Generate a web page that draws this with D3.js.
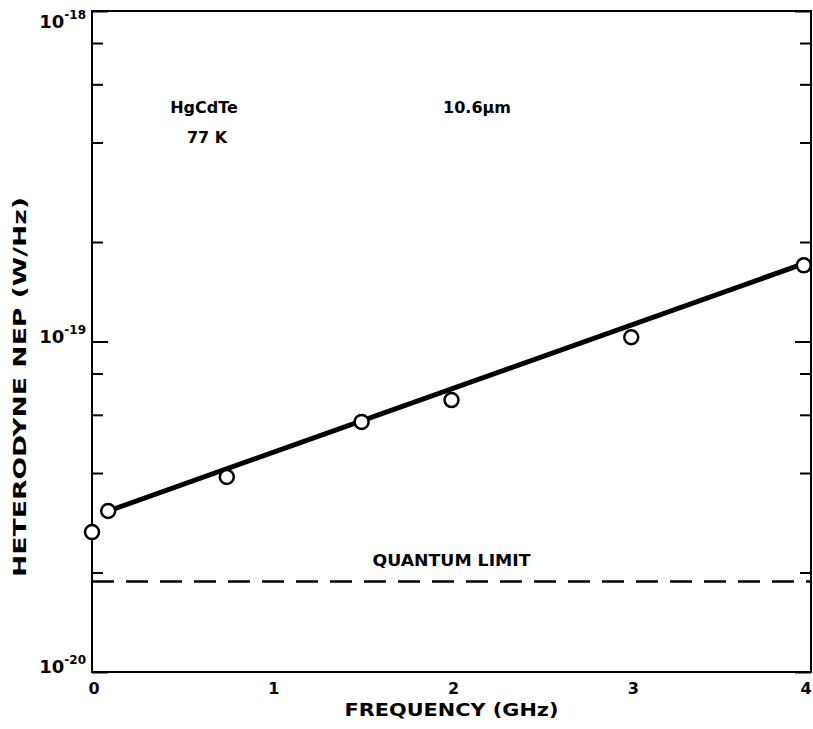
<!DOCTYPE html>
<meta charset="utf-8">
<style>
body { margin: 0; background: #fff; }
svg text { font-family: "DejaVu Sans", sans-serif; font-weight: bold; fill: #000; }
.axis path { display: none; }
.axis line { stroke: #000; stroke-width: 2px; }
.fit { fill: none; stroke: #000; stroke-width: 5px; }
.qlimit { fill: none; stroke: #000; stroke-width: 2.5px; stroke-dasharray: 22 12; }
.pt { fill: #fff; stroke: #000; stroke-width: 2.5px; }
</style>
<body>
<svg width="813" height="729"></svg>
<script src="https://cdn.jsdelivr.net/npm/d3@7"></script>
<script>

// measured points
var freq = [0, 0.09, 0.75, 1.5, 2.0, 3.0, 3.96];
var nep  = [2.65e-20, 3.07e-20, 3.89e-20, 5.71e-20, 6.65e-20, 1.03e-19, 1.70e-19];

// straight line through the points
var fitFreq = [0.09, 3.96];
var fitNep  = [3.07e-20, 1.72e-19];

var quantumLimit = 1.88e-20;

var xTicks = [0, 1, 2, 3, 4];
var yMajor = [1e-20, 1e-19, 1e-18];
var yExp   = ["-20", "-19", "-18"];
var yMinor = [2e-20, 4e-20, 6e-20, 8e-20, 2e-19, 4e-19, 6e-19, 8e-19];

var svg = d3.select("svg"),
    margin = {top: 11, right: 2, bottom: 57, left: 92},
    width = svg.attr("width") - margin.left - margin.right,
    height = svg.attr("height") - margin.top - margin.bottom,
    g = svg.append("g").attr("transform", "translate(" + margin.left + "," + margin.top + ")");

var x = d3.scaleLinear().domain([0, 4]).range([0, width]),
    y = d3.scaleLog().domain([1e-20, 1e-18]).range([height, 0]);

// inward ticks on both sides
g.append("g").attr("class", "axis")
    .call(d3.axisLeft(y).tickValues(yMinor).tickSize(-11).tickFormat(""));
g.append("g").attr("class", "axis")
    .call(d3.axisLeft(y).tickValues(yMajor).tickSize(-16).tickFormat(""));
g.append("g").attr("class", "axis")
    .attr("transform", "translate(" + width + ",0)")
    .call(d3.axisRight(y).tickValues(yMinor).tickSize(-11).tickFormat(""));
g.append("g").attr("class", "axis")
    .attr("transform", "translate(" + width + ",0)")
    .call(d3.axisRight(y).tickValues(yMajor).tickSize(-16).tickFormat(""));

// frame
g.append("rect")
    .attr("width", width)
    .attr("height", height)
    .attr("fill", "none")
    .attr("stroke", "#000")
    .attr("stroke-width", 2);

// y labels 10^n
var yl = g.selectAll(".ylab")
    .data(yMajor)
  .enter().append("text")
    .attr("class", "ylab")
    .attr("text-anchor", "end")
    .attr("x", -6)
    .attr("y", function(d) { return Math.max(y(d) + 1, 17); });
yl.append("tspan")
    .style("font-size", "18px")
    .text("10");
yl.append("tspan")
    .style("font-size", "12px")
    .attr("dy", -9)
    .text(function(d, i) { return yExp[i]; });

// x labels
g.selectAll(".xlab")
    .data(xTicks)
  .enter().append("text")
    .attr("class", "xlab")
    .attr("text-anchor", "middle")
    .attr("x", function(d) { return Math.min(x(d) + 2, width - 5); })
    .attr("y", height + 22)
    .style("font-size", "16px")
    .text(function(d) { return d; });

// quantum limit
g.append("line")
    .attr("class", "qlimit")
    .attr("x1", x(0)).attr("x2", x(4))
    .attr("y1", y(quantumLimit)).attr("y2", y(quantumLimit));

g.append("text")
    .attr("x", x(2))
    .attr("y", y(quantumLimit) - 15)
    .attr("text-anchor", "middle")
    .style("font-size", "16px")
    .attr("textLength", 158)
    .attr("lengthAdjust", "spacingAndGlyphs")
    .text("QUANTUM LIMIT");

// fit line
var line = d3.line()
    .x(function(d) { return x(d[0]); })
    .y(function(d) { return y(d[1]); });

g.append("path")
    .attr("class", "fit")
    .attr("d", line(d3.zip(fitFreq, fitNep)));

g.selectAll(".pt")
    .data(d3.zip(freq, nep))
  .enter().append("circle")
    .attr("class", "pt")
    .attr("r", 7)
    .attr("cx", function(d) { return x(d[0]); })
    .attr("cy", function(d) { return y(d[1]); });

// annotations
g.append("text")
    .attr("x", 112).attr("y", 102)
    .attr("text-anchor", "middle")
    .style("font-size", "16px")
    .text("HgCdTe");
g.append("text")
    .attr("x", 115).attr("y", 132)
    .attr("text-anchor", "middle")
    .style("font-size", "16px")
    .text("77 K");
g.append("text")
    .attr("x", 385).attr("y", 102)
    .attr("text-anchor", "middle")
    .style("font-size", "16px")
    .text("10.6\u00b5m");

// axis titles
svg.append("text")
    .attr("x", margin.left + x(2))
    .attr("y", 716)
    .attr("text-anchor", "middle")
    .style("font-size", "18px")
    .attr("textLength", 214)
    .attr("lengthAdjust", "spacingAndGlyphs")
    .text("FREQUENCY (GHz)");

svg.append("text")
    .attr("transform", "translate(26,387) rotate(-90)")
    .attr("text-anchor", "middle")
    .style("font-size", "18px")
    .attr("textLength", 380)
    .attr("lengthAdjust", "spacingAndGlyphs")
    .text("HETERODYNE NEP (W/Hz)");

</script>
</body>
